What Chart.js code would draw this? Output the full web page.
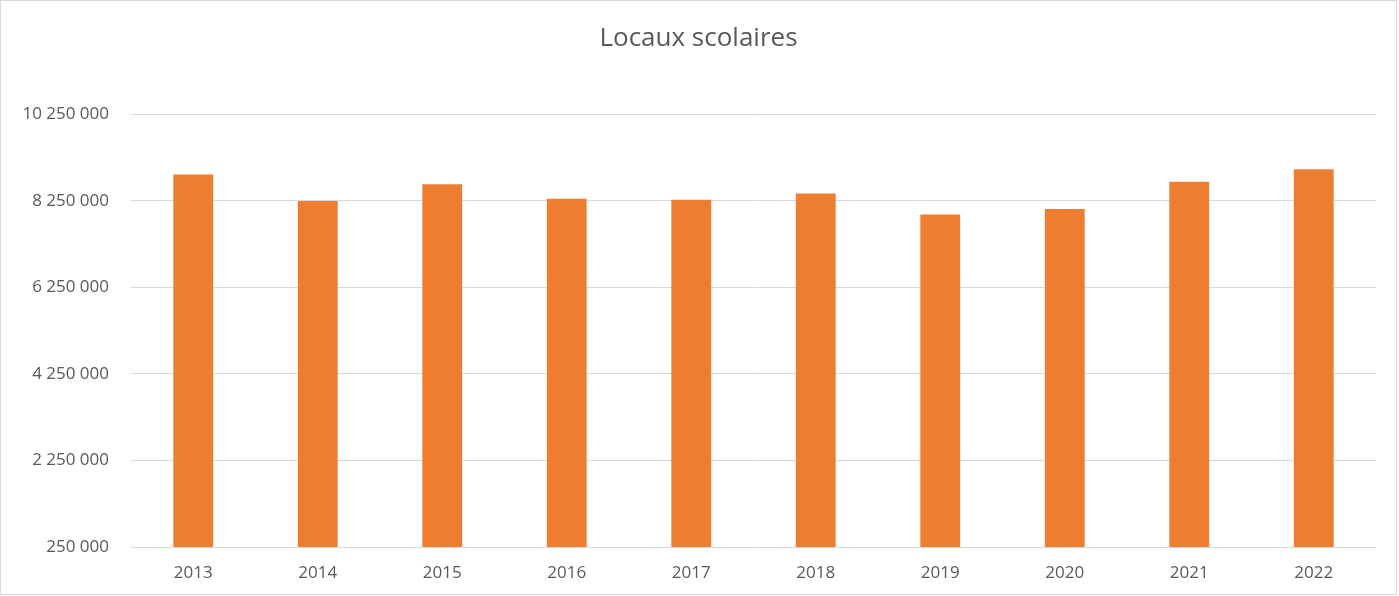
<!DOCTYPE html>
<html lang="fr">
<head>
<meta charset="utf-8">
<title>Locaux scolaires</title>
<script src="https://cdn.jsdelivr.net/npm/chart.js@4"></script>
<style>
  html, body { margin: 0; padding: 0; background: #fff; }
  .frame {
    position: absolute; left: 0; top: 0;
    width: 1395px; height: 593px;
    border: 1px solid #d9d9d9;
  }
  canvas { display: block; }
</style>
</head>
<body>
<div class="frame">
  <canvas id="chart" width="1395" height="593"></canvas>
</div>
<script>
// values
const years = ['2013', '2014', '2015', '2016', '2017', '2018', '2019', '2020', '2021', '2022'];
const surfaces = [8855000, 8243000, 8629000, 8297000, 8273000, 8420000, 7931000, 8057000, 8692000, 8978000];
const yMin = 250000;
const yMax = 10250000;
const yStep = 2000000;

const textColor = '#595959';
const gridColor = '#d9d9d9';
const barColor = '#ed7d31';

// "10 250 000" style
const formatNumber = (v) => String(Math.round(v)).replace(/\B(?=(\d{3})+(?!\d))/g, ' ');

Chart.defaults.font.family = '"Open Sans", sans-serif';
Chart.defaults.color = textColor;

new Chart(document.getElementById('chart'), {
  type: 'bar',
  data: {
    labels: years,
    datasets: [{
      label: 'Locaux scolaires',
      data: surfaces,
      backgroundColor: barColor,
      borderWidth: 0,
      barPercentage: 0.32,
      categoryPercentage: 1
    }]
  },
  options: {
    responsive: false,
    animation: false,
    layout: {
      padding: { left: 0, right: 0, top: 0, bottom: 10 }
    },
    plugins: {
      legend: { display: false },
      tooltip: { enabled: false },
      title: {
        display: true,
        text: 'Locaux scolaires',
        color: textColor,
        font: { size: 26, weight: 'normal' },
        padding: { top: 22, bottom: 60 }
      }
    },
    scales: {
      x: {
        grid: { display: false, drawTicks: false },
        border: { display: false },
        ticks: { font: { size: 17 }, padding: 16, color: textColor },
        afterFit: (scale) => { scale.height = 37; }
      },
      y: {
        min: yMin,
        max: yMax,
        grid: { color: gridColor, lineWidth: 1, drawTicks: false },
        border: { display: false },
        ticks: {
          stepSize: yStep,
          font: { size: 17 },
          padding: 22,
          color: textColor,
          callback: (v) => formatNumber(v)
        },
        afterFit: (scale) => { scale.width = 130; }
      },
      // empty right-hand axis, only keeps the white margin on the right
      yRight: {
        position: 'right',
        min: yMin,
        max: yMax,
        grid: { display: false, drawTicks: false },
        border: { display: false },
        ticks: { display: false },
        afterFit: (scale) => { scale.width = 20; }
      }
    }
  }
});
</script>
</body>
</html>
